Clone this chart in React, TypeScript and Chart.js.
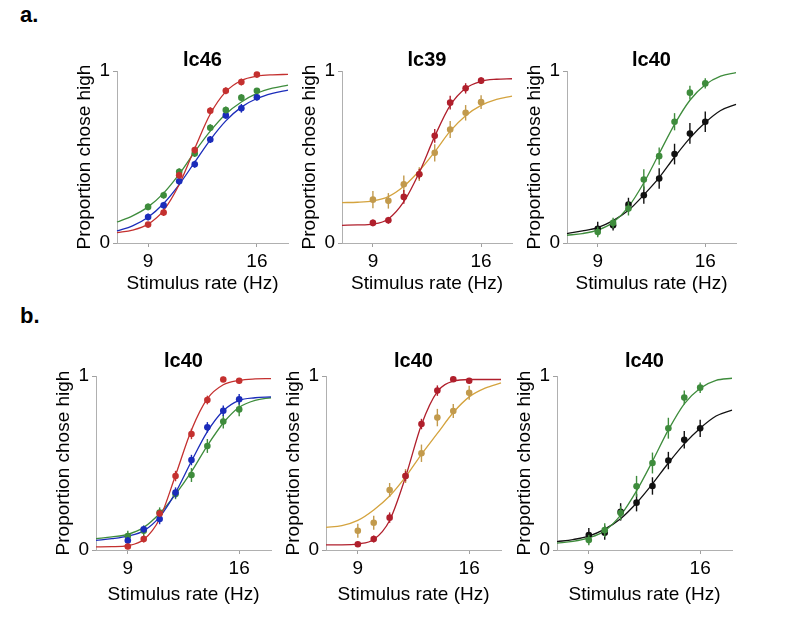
import React, { useEffect, useRef } from "react";
import { Chart, registerables } from "chart.js";

Chart.register(...registerables);

// ---------- data ----------
const rateX = [9, 10, 11, 12, 13, 14, 15, 16];
const curveX = [7, 8, 9, 10, 11, 12, 13, 14, 15, 16, 17, 18];
const xTickValues = [9, 16];
const yTickValues = [0, 1];
const panelTitles = ["lc46", "lc39", "lc40", "lc40", "lc40", "lc40"];
const xAxisTitle = "Stimulus rate (Hz)";
const yAxisTitle = "Proportion chose high";
const sectionLabels = ["a.", "b."];

// a. lc46
const p1RedPts = [0.107, 0.177, 0.394, 0.54, 0.769, 0.885, 0.936, 0.979];
const p1RedErr = [0.015, 0.02, 0.02, 0.02, 0.02, 0.02, 0.02, 0.015];
const p1RedFit = [0.06, 0.075, 0.11, 0.19, 0.34, 0.55, 0.75, 0.88, 0.945, 0.97, 0.978, 0.98];
const p1GreenPts = [0.21, 0.278, 0.414, 0.52, 0.67, 0.773, 0.845, 0.885];
const p1GreenErr = [0.02, 0.02, 0.02, 0.02, 0.02, 0.02, 0.02, 0.015];
const p1GreenFit = [0.122, 0.158, 0.21, 0.29, 0.4, 0.53, 0.65, 0.75, 0.82, 0.87, 0.9, 0.918];
const p1BluePts = [0.151, 0.219, 0.359, 0.458, 0.602, 0.742, 0.783, 0.847];
const p1BlueErr = [0.02, 0.02, 0.02, 0.02, 0.02, 0.02, 0.025, 0.02];
const p1BlueFit = [0.07, 0.1, 0.15, 0.23, 0.34, 0.47, 0.6, 0.71, 0.79, 0.84, 0.87, 0.889];

// a. lc39
const p2RedPts = [0.117, 0.132, 0.268, 0.4, 0.623, 0.816, 0.899, 0.944];
const p2RedErr = [0.02, 0.02, 0.04, 0.03, 0.04, 0.04, 0.03, 0.02];
const p2RedFit = [0.103, 0.105, 0.11, 0.14, 0.24, 0.41, 0.62, 0.8, 0.9, 0.94, 0.952, 0.955];
const p2GoldPts = [0.252, 0.245, 0.342, 0.4, 0.524, 0.66, 0.757, 0.819];
const p2GoldErr = [0.05, 0.045, 0.05, 0.04, 0.05, 0.05, 0.045, 0.04];
const p2GoldFit = [0.235, 0.237, 0.245, 0.27, 0.33, 0.42, 0.53, 0.65, 0.74, 0.8, 0.835, 0.854];

// a. lc40
const p3GreenPts = [0.064, 0.117, 0.2, 0.369, 0.505, 0.705, 0.874, 0.928];
const p3GreenErr = [0.03, 0.03, 0.04, 0.06, 0.05, 0.05, 0.04, 0.03];
const p3GreenFit = [0.045, 0.055, 0.075, 0.12, 0.21, 0.35, 0.52, 0.69, 0.83, 0.92, 0.97, 0.99];
const p3BlackPts = [0.083, 0.103, 0.223, 0.278, 0.375, 0.517, 0.637, 0.705];
const p3BlackErr = [0.04, 0.03, 0.04, 0.05, 0.06, 0.06, 0.06, 0.06];
const p3BlackFit = [0.055, 0.07, 0.09, 0.13, 0.19, 0.28, 0.38, 0.5, 0.61, 0.7, 0.77, 0.806];

// b. lc40 (red / blue / green)
const p4RedPts = [0.02, 0.063, 0.21, 0.425, 0.667, 0.862, 0.98, 0.973];
const p4RedErr = [0.015, 0.02, 0.02, 0.03, 0.03, 0.025, 0.015, 0.015];
const p4RedFit = [0.018, 0.019, 0.025, 0.06, 0.18, 0.43, 0.69, 0.87, 0.95, 0.975, 0.983, 0.985];
const p4BluePts = [0.054, 0.119, 0.178, 0.33, 0.517, 0.705, 0.8, 0.866];
const p4BlueErr = [0.02, 0.02, 0.03, 0.03, 0.03, 0.03, 0.03, 0.03];
const p4BlueFit = [0.055, 0.065, 0.08, 0.11, 0.19, 0.33, 0.51, 0.68, 0.8, 0.86, 0.875, 0.88];
const p4GreenPts = [0.08, 0.111, 0.215, 0.322, 0.431, 0.598, 0.738, 0.808];
const p4GreenErr = [0.03, 0.03, 0.03, 0.03, 0.04, 0.04, 0.04, 0.04];
const p4GreenFit = [0.065, 0.075, 0.09, 0.13, 0.21, 0.32, 0.45, 0.6, 0.73, 0.82, 0.86, 0.875];

// b. lc40 (red / gold)
const p5RedPts = [0.033, 0.063, 0.186, 0.425, 0.724, 0.916, 0.981, 0.973];
const p5RedErr = [0.015, 0.02, 0.03, 0.03, 0.03, 0.03, 0.015, 0.015];
const p5RedFit = [0.03, 0.03, 0.035, 0.06, 0.17, 0.42, 0.72, 0.91, 0.97, 0.98, 0.98, 0.98];
const p5GoldPts = [0.111, 0.157, 0.345, 0.425, 0.556, 0.761, 0.799, 0.904];
const p5GoldErr = [0.04, 0.04, 0.04, 0.04, 0.05, 0.05, 0.04, 0.04];
const p5GoldFit = [0.13, 0.14, 0.17, 0.23, 0.31, 0.42, 0.55, 0.67, 0.79, 0.88, 0.93, 0.96];

// b. lc40 (green / black)
const p6GreenPts = [0.057, 0.114, 0.213, 0.366, 0.5, 0.7, 0.876, 0.933];
const p6GreenErr = [0.03, 0.04, 0.04, 0.06, 0.06, 0.06, 0.04, 0.03];
const p6GreenFit = [0.04, 0.05, 0.07, 0.11, 0.2, 0.34, 0.51, 0.69, 0.84, 0.93, 0.975, 0.987];
const p6BlackPts = [0.086, 0.099, 0.219, 0.272, 0.368, 0.514, 0.634, 0.699];
const p6BlackErr = [0.04, 0.04, 0.05, 0.05, 0.05, 0.05, 0.05, 0.05];
const p6BlackFit = [0.048, 0.06, 0.08, 0.12, 0.18, 0.27, 0.38, 0.5, 0.61, 0.7, 0.77, 0.804];

// ---------- styles ----------
const RED = "#c4302f";
const CRIMSON = "#b01f2c";
const GREEN = "#3e8c3c";
const BLUE = "#1b2cba";
const GOLD = "#c29a4c";
const GOLD_LINE = "#d4a33e";
const BLACK = "#111111";
const FONT = "'Liberation Sans', Arial, Helvetica, sans-serif";

type Series = { pts: number[]; err: number[]; fit: number[]; color: string; line: string };

const panelSeries: Series[][] = [
  [
    { pts: p1RedPts, err: p1RedErr, fit: p1RedFit, color: RED, line: RED },
    { pts: p1GreenPts, err: p1GreenErr, fit: p1GreenFit, color: GREEN, line: GREEN },
    { pts: p1BluePts, err: p1BlueErr, fit: p1BlueFit, color: BLUE, line: BLUE },
  ],
  [
    { pts: p2RedPts, err: p2RedErr, fit: p2RedFit, color: CRIMSON, line: CRIMSON },
    { pts: p2GoldPts, err: p2GoldErr, fit: p2GoldFit, color: GOLD, line: GOLD_LINE },
  ],
  [
    { pts: p3GreenPts, err: p3GreenErr, fit: p3GreenFit, color: GREEN, line: GREEN },
    { pts: p3BlackPts, err: p3BlackErr, fit: p3BlackFit, color: BLACK, line: BLACK },
  ],
  [
    { pts: p4RedPts, err: p4RedErr, fit: p4RedFit, color: RED, line: RED },
    { pts: p4BluePts, err: p4BlueErr, fit: p4BlueFit, color: BLUE, line: BLUE },
    { pts: p4GreenPts, err: p4GreenErr, fit: p4GreenFit, color: GREEN, line: GREEN },
  ],
  [
    { pts: p5RedPts, err: p5RedErr, fit: p5RedFit, color: CRIMSON, line: CRIMSON },
    { pts: p5GoldPts, err: p5GoldErr, fit: p5GoldFit, color: GOLD, line: GOLD_LINE },
  ],
  [
    { pts: p6GreenPts, err: p6GreenErr, fit: p6GreenFit, color: GREEN, line: GREEN },
    { pts: p6BlackPts, err: p6BlackErr, fit: p6BlackFit, color: BLACK, line: BLACK },
  ],
];

// layout (chart-area boxes in page pixels)
const panelBoxes = [
  { L: 117, T: 71, R: 288, B: 243, tp: 0, hx: 52 },
  { L: 342, T: 71, R: 512, B: 243, tp: 0, hx: 52 },
  { L: 567, T: 71, R: 736, B: 243, tp: 0, hx: 52 },
  { L: 96, T: 376, R: 271, B: 550, tp: 4, hx: 56 },
  { L: 326, T: 376, R: 501, B: 550, tp: 4, hx: 56 },
  { L: 557, T: 376, R: 732, B: 550, tp: 4, hx: 56 },
];
const Y_AXIS_W = 43;
const PAD_R = 4;
const TITLE_LH = 22;

const errorBarPlugin = {
  id: "errorBars",
  beforeDatasetDraw(chart: any, args: any) {
    const ds = chart.data.datasets[args.index];
    if (!ds.errors) return;
    const { ctx } = chart;
    const xs = chart.scales.x;
    const ys = chart.scales.y;
    ctx.save();
    ctx.strokeStyle = ds.backgroundColor;
    ctx.lineWidth = 1.4;
    ds.data.forEach((p: any, i: number) => {
      const e = ds.errors[i];
      const px = xs.getPixelForValue(p.x);
      ctx.beginPath();
      ctx.moveTo(px, ys.getPixelForValue(p.y - e));
      ctx.lineTo(px, ys.getPixelForValue(p.y + e));
      ctx.stroke();
    });
    ctx.restore();
  },
};

function Panel({ idx }: { idx: number }) {
  const ref = useRef<HTMLCanvasElement>(null);
  const box = panelBoxes[idx];
  const titleH = TITLE_LH + box.tp;
  const width = Y_AXIS_W + (box.R - box.L) + PAD_R;
  const height = titleH + (box.B - box.T) + box.hx;
  const left = box.L - Y_AXIS_W;
  const top = box.T - titleH;

  useEffect(() => {
    const datasets: any[] = [];
    panelSeries[idx].forEach((s) => {
      datasets.push({
        data: rateX.map((x, i) => ({ x, y: s.pts[i] })),
        errors: s.err,
        backgroundColor: s.color,
        borderColor: s.color,
        pointRadius: 3.3,
        pointBorderWidth: 0,
        pointHoverRadius: 3.3,
        showLine: false,
        order: 1,
        clip: false,
      });
      datasets.push({
        data: curveX.map((x, i) => ({ x, y: s.fit[i] })),
        borderColor: s.line,
        backgroundColor: s.line,
        borderWidth: 1.3,
        pointRadius: 0,
        pointHoverRadius: 0,
        showLine: true,
        cubicInterpolationMode: "monotone",
        fill: false,
        order: 2,
        clip: false,
      });
    });

    const axisFont = { family: FONT, size: 19, lineHeight: "22px" };
    const chart = new Chart(ref.current as HTMLCanvasElement, {
      type: "scatter",
      data: { datasets },
      options: {
        animation: false,
        responsive: false,
        devicePixelRatio: 1,
        events: [],
        layout: { padding: { left: 0, top: 0, right: PAD_R, bottom: 0 } },
        plugins: {
          legend: { display: false },
          tooltip: { enabled: false },
          title: {
            display: true,
            text: panelTitles[idx],
            fullSize: false,
            color: "#000",
            font: { family: FONT, size: 20, weight: "bold", lineHeight: "22px" },
            padding: { top: 0, bottom: box.tp },
          },
        },
        scales: {
          x: {
            type: "linear",
            min: 7,
            max: 18,
            afterBuildTicks: (s: any) => {
              s.ticks = xTickValues.map((v) => ({ value: v }));
            },
            afterFit: (s: any) => {
              s.height = box.hx;
            },
            ticks: { autoSkip: false, maxRotation: 0, padding: 4, color: "#000", font: axisFont },
            grid: { drawOnChartArea: false, drawTicks: true, tickLength: 4, color: "#a0a0a0" },
            border: { color: "#b0b0b0", width: 1 },
            title: { display: true, text: xAxisTitle, color: "#000", font: axisFont, padding: 0 },
          },
          y: {
            type: "linear",
            min: 0,
            max: 1,
            afterBuildTicks: (s: any) => {
              s.ticks = yTickValues.map((v) => ({ value: v }));
            },
            afterFit: (s: any) => {
              s.width = Y_AXIS_W;
            },
            ticks: { autoSkip: false, padding: 3, color: "#000", font: axisFont },
            grid: { drawOnChartArea: false, drawTicks: true, tickLength: 4, color: "#a0a0a0" },
            border: { color: "#b0b0b0", width: 1 },
            title: { display: true, text: yAxisTitle, color: "#000", font: axisFont, padding: 0 },
          },
        },
      } as any,
      plugins: [errorBarPlugin],
    });
    return () => chart.destroy();
  }, [idx]);

  return (
    <canvas
      ref={ref}
      width={width}
      height={height}
      style={{ position: "absolute", left, top, width, height }}
    />
  );
}

export default function App() {
  return (
    <div
      style={{
        position: "fixed",
        left: 0,
        top: 0,
        width: 796,
        height: 633,
        background: "#fff",
        overflow: "hidden",
        fontFamily: FONT,
      }}
    >
      <div style={{ position: "absolute", left: 20, top: 4, fontSize: 22, lineHeight: "22px", fontWeight: "bold", color: "#000" }}>
        {sectionLabels[0]}
      </div>
      <div style={{ position: "absolute", left: 20, top: 305, fontSize: 22, lineHeight: "22px", fontWeight: "bold", color: "#000" }}>
        {sectionLabels[1]}
      </div>
      {panelBoxes.map((_, i) => (
        <Panel key={i} idx={i} />
      ))}
    </div>
  );
}
